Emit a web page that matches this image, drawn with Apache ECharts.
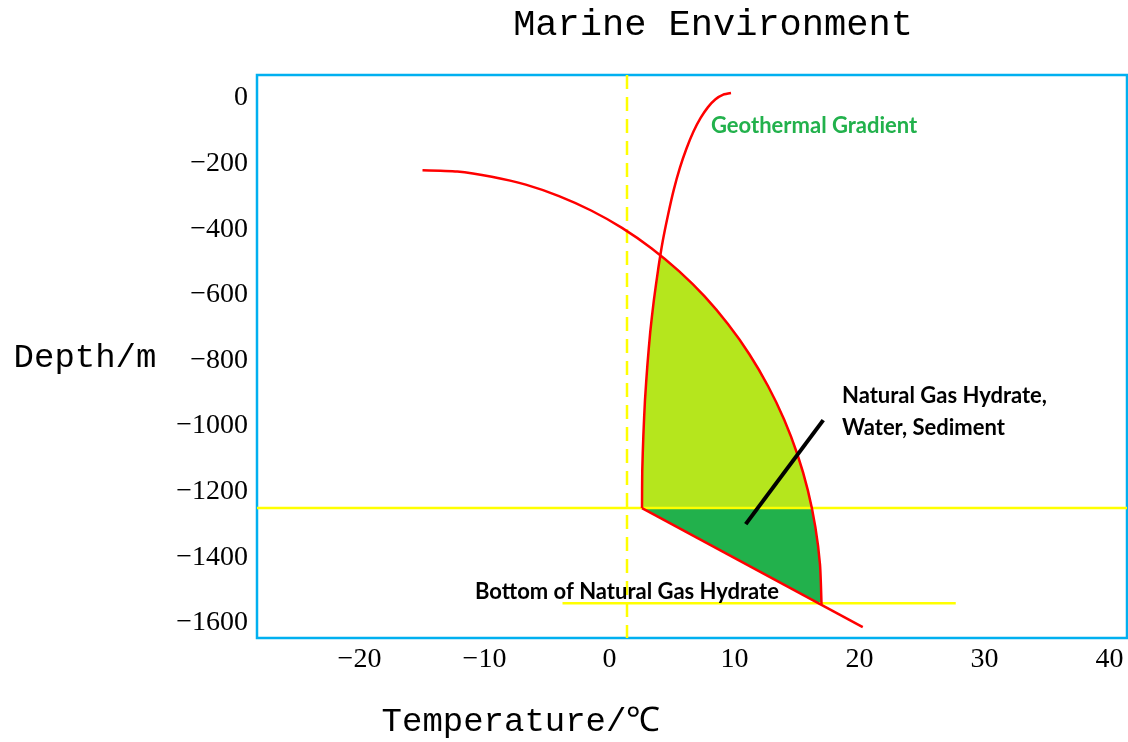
<!DOCTYPE html>
<html>
<head>
<meta charset="utf-8">
<script src="https://cdn.jsdelivr.net/npm/echarts@6/dist/echarts.min.js"></script>
<style>
  html, body { margin: 0; padding: 0; background: #fff; }
  #chart { width: 1128px; height: 742px; }
</style>
</head>
<body>
<div id="chart"></div>
<script>
// Points are [temperature °C, depth m]
const phaseBoundary = [
  [-14.96, -220], [-12.18, -224], [-9.42, -240], [-6.70, -264], [-4.04, -299],
  [-1.47, -343], [1.0, -396], [3.35, -458], [5.56, -528], [7.61, -605],
  [9.49, -690], [11.19, -781], [12.68, -878], [13.97, -980], [15.03, -1086],
  [15.87, -1196], [16.47, -1308], [16.84, -1422], [16.96, -1543]
];
const geothermalGradient = [
  [9.72, 15], [9.10, 10], [8.48, -4], [7.88, -28], [7.29, -61], [6.71, -103],
  [6.16, -154], [5.63, -213], [5.14, -280], [4.69, -355], [4.26, -436],
  [3.89, -523], [3.55, -616], [3.26, -713], [3.03, -815], [2.84, -920],
  [2.71, -1028], [2.62, -1137], [2.60, -1250]
];
const curvesCrossing = [4.07, -481];        // geothermal gradient meets phase boundary
const hydrateTopDepth = -1250;
const phaseAtHydrateTop = [16.2, -1250];
const hydrateBase = [[2.60, -1250], [20.26, -1613]];
const hydrateBottomLine = [[-3.76, -1540], [27.7, -1540]];
const freezingTemp = 1.4;
const pointerLine = [[17.1, -982], [10.9, -1299]];

const xTicks = [-20, -10, 0, 10, 20, 30, 40];
const yTicks = [0, -200, -400, -600, -800, -1000, -1200, -1400, -1600];
const xRange = [-28.2, 41.4];
const yRange = [-1646, 70];

const between = (pts, top, bottom) => pts.filter(p => p[1] < top && p[1] > bottom);

// Light green: stable hydrate zone above the hydrate top line
const upperZone = [curvesCrossing]
  .concat(between(geothermalGradient, curvesCrossing[1], hydrateTopDepth))
  .concat([hydrateBase[0], phaseAtHydrateTop])
  .concat(between(phaseBoundary, curvesCrossing[1], hydrateTopDepth).reverse());
// Dark green: below the hydrate top line, down to the hydrate base
const lowerZone = [hydrateBase[0], phaseAtHydrateTop]
  .concat(phaseBoundary.filter(p => p[1] < hydrateTopDepth));

const RED = '#ff0000', YELLOW = '#ffff00';
const minus = v => (v < 0 ? '\u2212' + Math.abs(v) : String(v));

function zone(points, color) {
  return {
    type: 'custom',
    coordinateSystem: 'cartesian2d',
    silent: true,
    z: 1,
    data: [0],
    renderItem: (params, api) => ({
      type: 'polygon',
      shape: { points: points.map(p => api.coord(p)) },
      style: { fill: color, stroke: null }
    })
  };
}

function line(data, color, width, extra) {
  return Object.assign({
    type: 'line',
    data: data,
    symbol: 'none',
    silent: true,
    z: 3,
    lineStyle: { color: color, width: width }
  }, extra || {});
}

const labelFont = { fontFamily: 'Liberation Serif', fontSize: 28, color: '#000', formatter: minus };

const chart = echarts.init(document.getElementById('chart'), null, { renderer: 'canvas' });
chart.setOption({
  animation: false,
  backgroundColor: '#fff',
  grid: {
    left: 257, top: 75, right: 1, bottom: 104,
    show: true, borderColor: '#00b0f0', borderWidth: 2.5, backgroundColor: 'transparent'
  },
  xAxis: {
    type: 'value', min: xRange[0], max: xRange[1],
    axisLine: { show: false }, axisTick: { show: false }, splitLine: { show: false },
    axisLabel: Object.assign({ customValues: xTicks, margin: 8 }, labelFont)
  },
  yAxis: {
    type: 'value', min: yRange[0], max: yRange[1],
    axisLine: { show: false }, axisTick: { show: false }, splitLine: { show: false },
    axisLabel: Object.assign({ customValues: yTicks, margin: 9 }, labelFont)
  },
  series: [
    zone(upperZone, '#b5e61d'),
    zone(lowerZone, '#22b14c'),
    line([[freezingTemp, yRange[1]], [freezingTemp, yRange[0]]], YELLOW, 2.5,
      { lineStyle: { color: YELLOW, width: 2.5, type: [14, 8] }, z: 2 }),
    line([[xRange[0], hydrateTopDepth], [xRange[1], hydrateTopDepth]], YELLOW, 2.5, { z: 2 }),
    line(hydrateBottomLine, YELLOW, 2.5, { z: 2 }),
    line(phaseBoundary, RED, 2.5, { smooth: 0.2 }),
    line(geothermalGradient, RED, 2.5, { smooth: 0.2 }),
    line(hydrateBase, RED, 2.5),
    line(pointerLine, '#000', 4, { z: 4 })
  ],
  graphic: [
    { type: 'text', x: 713, y: 25, silent: true,
      style: { text: 'Marine Environment', font: '37px "Liberation Mono"', fill: '#000',
        align: 'center', verticalAlign: 'middle' } },
    { type: 'text', x: 85, y: 358, silent: true,
      style: { text: 'Depth/m', font: '34px "Liberation Mono"', fill: '#000',
        align: 'center', verticalAlign: 'middle' } },
    { type: 'text', x: 521, y: 722, silent: true,
      style: { text: 'Temperature/\u2103', font: '34px "Liberation Mono"', fill: '#000',
        align: 'center', verticalAlign: 'middle' } },
    { type: 'text', x: 711, y: 126, silent: true, z: 10,
      style: { text: 'Geothermal Gradient', font: 'bold 22px Lato', fill: '#22b14c',
        align: 'left', verticalAlign: 'middle' } },
    { type: 'text', x: 842, y: 396, silent: true, z: 10,
      style: { text: 'Natural Gas Hydrate,', font: 'bold 22px Lato', fill: '#000',
        align: 'left', verticalAlign: 'middle' } },
    { type: 'text', x: 842, y: 428, silent: true, z: 10,
      style: { text: 'Water, Sediment', font: 'bold 22px Lato', fill: '#000',
        align: 'left', verticalAlign: 'middle' } },
    { type: 'text', x: 475, y: 592, silent: true, z: 10,
      style: { text: 'Bottom of Natural Gas Hydrate', font: 'bold 22px Lato', fill: '#000',
        align: 'left', verticalAlign: 'middle' } }
  ]
});
</script>
</body>
</html>
